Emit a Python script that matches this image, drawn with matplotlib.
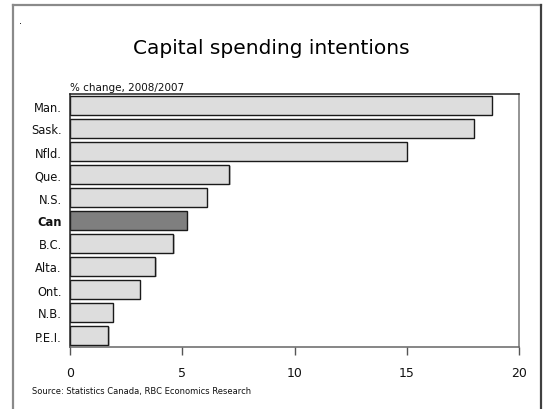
import matplotlib
matplotlib.use("Agg")
import matplotlib.pyplot as plt
from matplotlib.patches import Rectangle
from matplotlib.lines import Line2D

provinces = ["Man.", "Sask.", "Nfld.", "Que.", "N.S.", "Can", "B.C.", "Alta.", "Ont.", "N.B.", "P.E.I."]
pct_change = [18.8, 18.0, 15.0, 7.1, 6.1, 5.2, 4.6, 3.8, 3.1, 1.9, 1.7]
x_ticks = [0, 5, 10, 15, 20]

W, H = 543, 410
fig = plt.figure(figsize=(W / 100, H / 100), dpi=100)
fig.patch.set_facecolor("white")

def fx(px):
    return px / W

def fy(py):
    return 1 - py / H

# outer frame (open at the bottom)
fig.add_artist(Line2D([fx(13), fx(13)], [fy(6), 0], color="#8a8a8a", lw=1.6))
fig.add_artist(Line2D([fx(13), fx(541)], [fy(6), fy(6)], color="#8a8a8a", lw=1.6))
fig.add_artist(Line2D([fx(541), fx(541)], [fy(6), 0], color="#404040", lw=1.6))

font = "DejaVu Sans"

ax = fig.add_axes([fx(70), fy(348), fx(519) - fx(70), fy(95) - fy(348)])

n = len(provinces)
ypos = list(range(n))
colors = ["#7f7f7f" if p == "Can" else "#dddddd" for p in provinces]

# soft shadow under each bar
for y, v in zip(ypos, pct_change):
    ax.add_patch(Rectangle((0.06, y - 0.41 + 0.05), v, 0.82, facecolor="#c8c8c8",
                           edgecolor="none", zorder=1))
ax.barh(ypos, pct_change, height=0.82, color=colors, edgecolor="#1a1a1a",
        linewidth=1.0, zorder=2)

ax.set_ylim(n - 0.5, -0.5)
ax.set_xlim(0, 20)
ax.set_yticks(ypos)
ax.set_yticklabels(provinces, fontsize=8.3, family=font, color="#111111")
for lbl, p in zip(ax.get_yticklabels(), provinces):
    if p == "Can":
        lbl.set_fontweight("bold")
ax.tick_params(axis="y", length=0, pad=6)
ax.set_xticks(x_ticks)
ax.set_xticklabels([str(t) for t in x_ticks], fontsize=9, family=font, color="#111111")
ax.tick_params(axis="x", direction="out", length=6, width=1, color="#555555", pad=8)

ax.spines["left"].set_color("#222222")
ax.spines["top"].set_color("#222222")
ax.spines["right"].set_color("#777777")
ax.spines["bottom"].set_color("#666666")
for s in ax.spines.values():
    s.set_linewidth(1.1)

fig.text(0.5, fy(48), "Capital spending intentions", ha="center", va="center",
         fontsize=14.5, fontweight="medium", family=font, color="#000000")
fig.text(fx(70), fy(88), "% change, 2008/2007", ha="left", va="center",
         fontsize=7.5, family=font, color="#111111")
fig.text(fx(32), fy(392), "Source: Statistics Canada, RBC Economics Research",
         ha="left", va="center", fontsize=6, family=font, color="#111111")
fig.text(fx(20), fy(21), ".", ha="center", va="center", fontsize=7, family=font)

fig.savefig("out.png", dpi=100)
